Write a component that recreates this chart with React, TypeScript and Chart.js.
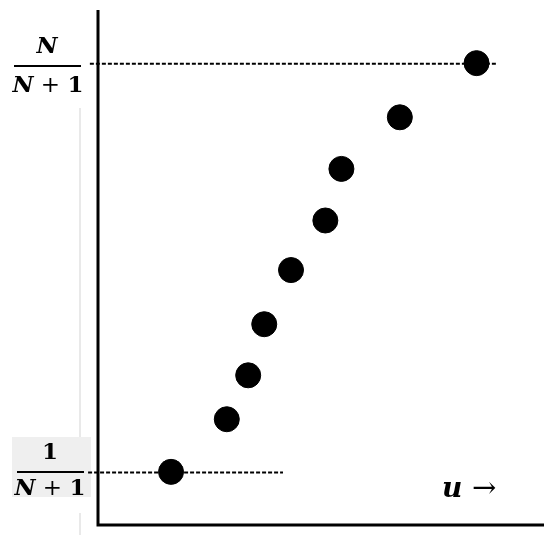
import React, { useEffect, useRef } from "react";
import { Chart, registerables } from "chart.js";

Chart.register(...registerables);

// Empirical CDF points: u (sorted) vs approx. i/(N+1)
const uValues = [0.166, 0.291, 0.339, 0.375, 0.435, 0.512, 0.548, 0.679, 0.851];
const cdfValues = [0.101, 0.204, 0.29, 0.39, 0.496, 0.593, 0.694, 0.795, 0.901];
const topGuide = { y: 0.9, from: -0.016, to: 0.897 };
const bottomGuide = { y: 0.1, from: -0.02, to: 0.417 };
const axisLabel = "u";

const SERIF = '"DejaVu Serif", "Liberation Serif", serif';

function drawRun(ctx: CanvasRenderingContext2D, parts: { t: string; f: string }[], cx: number, cy: number) {
  let total = 0;
  const widths = parts.map((p) => {
    ctx.font = p.f;
    const w = ctx.measureText(p.t).width;
    total += w;
    return w;
  });
  let x = cx - total / 2;
  parts.forEach((p, i) => {
    ctx.font = p.f;
    ctx.fillText(p.t, x, cy);
    x += widths[i];
  });
}

const overlay = {
  id: "overlay",
  beforeDatasetsDraw(chart: any) {
    const ctx = chart.ctx as CanvasRenderingContext2D;
    const xs = chart.scales.x;
    const ys = chart.scales.y;
    ctx.save();

    // faint gray guide line at left
    ctx.strokeStyle = "#e2e2e2";
    ctx.lineWidth = 1.5;
    ctx.beginPath();
    ctx.moveTo(80, 108);
    ctx.lineTo(80, 438);
    ctx.moveTo(80, 513);
    ctx.lineTo(80, 535);
    ctx.stroke();

    // gray box behind bottom fraction
    ctx.fillStyle = "#efefef";
    ctx.fillRect(12, 437, 79, 60);

    // dashed guides
    ctx.strokeStyle = "#000";
    ctx.lineWidth = 2;
    ctx.setLineDash([4, 2]);
    [topGuide, bottomGuide].forEach((g) => {
      const y = ys.getPixelForValue(g.y);
      ctx.beginPath();
      ctx.moveTo(xs.getPixelForValue(g.from), y);
      ctx.lineTo(xs.getPixelForValue(g.to), y);
      ctx.stroke();
    });
    ctx.setLineDash([]);

    // axes
    const left = chart.chartArea.left + 1;
    const bottom = chart.chartArea.bottom;
    ctx.lineWidth = 3;
    ctx.beginPath();
    ctx.moveTo(left, chart.chartArea.top);
    ctx.lineTo(left, bottom);
    ctx.lineTo(chart.chartArea.right + 1, bottom);
    ctx.stroke();

    // fractions
    ctx.fillStyle = "#000";
    ctx.textBaseline = "middle";
    const bi = `bold italic 23px ${SERIF}`;
    const b = `bold 23px ${SERIF}`;
    const r = `23px ${SERIF}`;

    drawRun(ctx, [{ t: "N", f: bi }], 47, 47);
    ctx.fillRect(14, 65, 67, 2);
    drawRun(ctx, [{ t: "N", f: bi }, { t: " + ", f: r }, { t: "1", f: b }], 48, 86);

    drawRun(ctx, [{ t: "1", f: b }], 50, 453);
    ctx.fillRect(17, 471, 67, 2);
    drawRun(ctx, [{ t: "N", f: bi }, { t: " + ", f: r }, { t: "1", f: b }], 50, 489);

    // axis label
    ctx.textBaseline = "alphabetic";
    ctx.font = `bold italic 28px ${SERIF}`;
    ctx.fillText(axisLabel, 442, 497);
    ctx.font = `29px ${SERIF}`;
    ctx.fillText("→", 472, 497);

    ctx.restore();
  },
};

export default function App() {
  const ref = useRef<HTMLCanvasElement>(null);
  useEffect(() => {
    if (!ref.current) return;
    const chart = new Chart(ref.current, {
      type: "scatter",
      data: {
        datasets: [
          {
            data: uValues.map((u, i) => ({ x: u, y: cdfValues[i] })),
            backgroundColor: "#000",
            borderColor: "#000",
            pointRadius: 12.5,
            pointHoverRadius: 12.5,
          },
        ],
      },
      options: {
        animation: false,
        responsive: true,
        maintainAspectRatio: false,
        layout: { autoPadding: false, padding: { left: 97, right: 7, top: 10, bottom: 10 } },
        plugins: { legend: { display: false }, tooltip: { enabled: false } },
        events: [],
        scales: {
          x: { type: "linear", display: false, min: 0, max: 1 },
          y: { type: "linear", display: false, min: -0.003, max: 1.005 },
        },
      },
      plugins: [overlay],
    });
    return () => chart.destroy();
  }, []);
  return (
    <div style={{ position: "absolute", left: 0, top: 0, width: 550, height: 535, background: "#fff" }}>
      <canvas ref={ref} />
    </div>
  );
}
